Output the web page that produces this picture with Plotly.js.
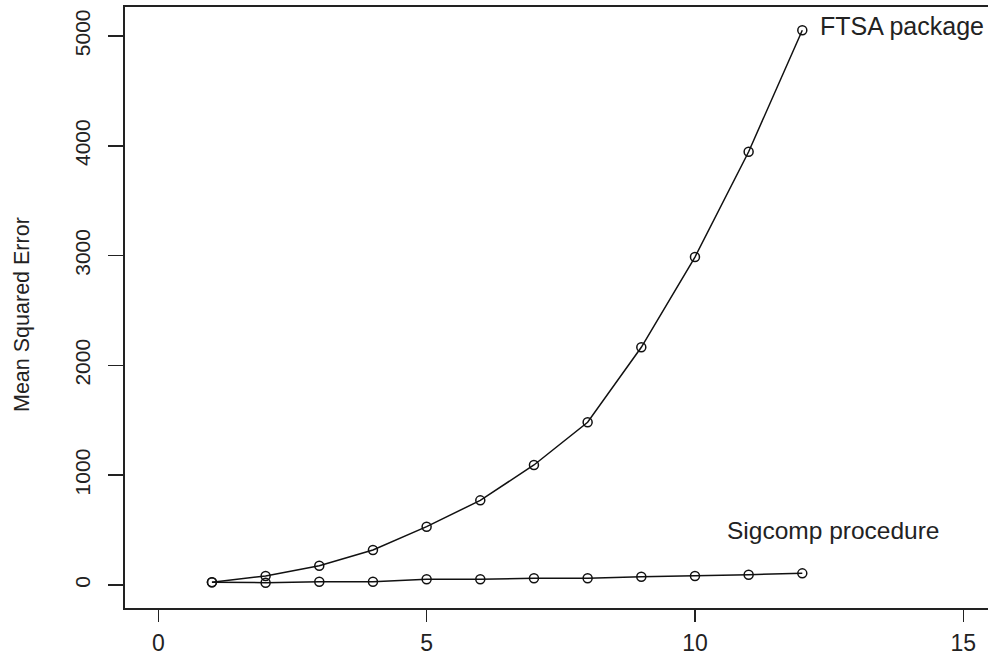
<!DOCTYPE html>
<html>
<head>
<meta charset="utf-8">
<script src="https://cdn.plot.ly/plotly-3.0.1.min.js"></script>
<style>html,body{margin:0;padding:0;background:#fff;}#chart{width:988px;height:656px;}</style>
</head>
<body>
<div id="chart"></div>
<script>
const horizon = [1, 2, 3, 4, 5, 6, 7, 8, 9, 10, 11, 12];
const ftsaMSE = [25, 82, 176, 319, 531, 771, 1093, 1482, 2165, 2987, 3946, 5052];
const sigcompMSE = [25, 21, 30, 30, 52, 52, 61, 61, 75, 82, 94, 106];
const xTicks = [0, 5, 10, 15];
const yTicks = [0, 1000, 2000, 3000, 4000, 5000];
const labelFTSA = {x: 12.29, y: 5090, text: "FTSA package"};
const labelSig = {x: 12.58, y: 500, text: "Sigcomp procedure"};

const font = "Liberation Sans, Arial, sans-serif";
const lineStyle = {color: "#111", width: 1.5};
const markerStyle = {symbol: "circle-open", size: 9, color: "#111", line: {color: "#111", width: 1.5}};

const traces = [
  {x: horizon, y: ftsaMSE, mode: "lines+markers", line: lineStyle, marker: markerStyle, name: "FTSA package", cliponaxis: false},
  {x: horizon, y: sigcompMSE, mode: "lines+markers", line: lineStyle, marker: markerStyle, name: "Sigcomp procedure", cliponaxis: false}
];

const layout = {
  width: 988, height: 656,
  margin: {l: 125, r: 0, t: 7, b: 48},
  paper_bgcolor: "#fff", plot_bgcolor: "#fff",
  showlegend: false,
  font: {family: font, color: "#222"},
  xaxis: {
    range: [-0.62, 15.46],
    tickvals: xTicks, ticktext: xTicks.map(String),
    ticks: "outside", ticklen: 12, tickwidth: 1.5, tickcolor: "#222",
    showline: true, mirror: true, linecolor: "#222", linewidth: 1.8,
    showgrid: false, zeroline: false,
    tickfont: {family: font, size: 23, color: "#222"},
    ticklabelstandoff: 2
  },
  yaxis: {
    range: [-209.5, 5264],
    tickvals: yTicks, ticktext: yTicks.map(String),
    tickangle: -90,
    ticks: "outside", ticklen: 15, tickwidth: 1.5, tickcolor: "#222",
    showline: true, mirror: false, linecolor: "#222", linewidth: 1.8,
    showgrid: false, zeroline: false,
    tickfont: {family: font, size: 21, color: "#222"},
    ticklabelstandoff: 10
  },
  annotations: [
    {x: labelFTSA.x, y: labelFTSA.y, xref: "x", yref: "y", text: labelFTSA.text, showarrow: false,
     xanchor: "left", yanchor: "middle", font: {family: font, size: 25, color: "#222"}},
    {x: labelSig.x, y: labelSig.y, xref: "x", yref: "y", text: labelSig.text, showarrow: false,
     xanchor: "center", yanchor: "middle", font: {family: font, size: 24.5, color: "#222"}},
    {x: (22 - 125) / 863, y: 0.5 - (315 - 307.5) / 601, xref: "paper", yref: "paper", text: "Mean Squared Error",
     showarrow: false, textangle: -90, xanchor: "center", yanchor: "middle", font: {family: font, size: 21.5, color: "#222"}}
  ]
};

Plotly.newPlot("chart", traces, layout, {staticPlot: true, displayModeBar: false});
</script>
</body>
</html>
